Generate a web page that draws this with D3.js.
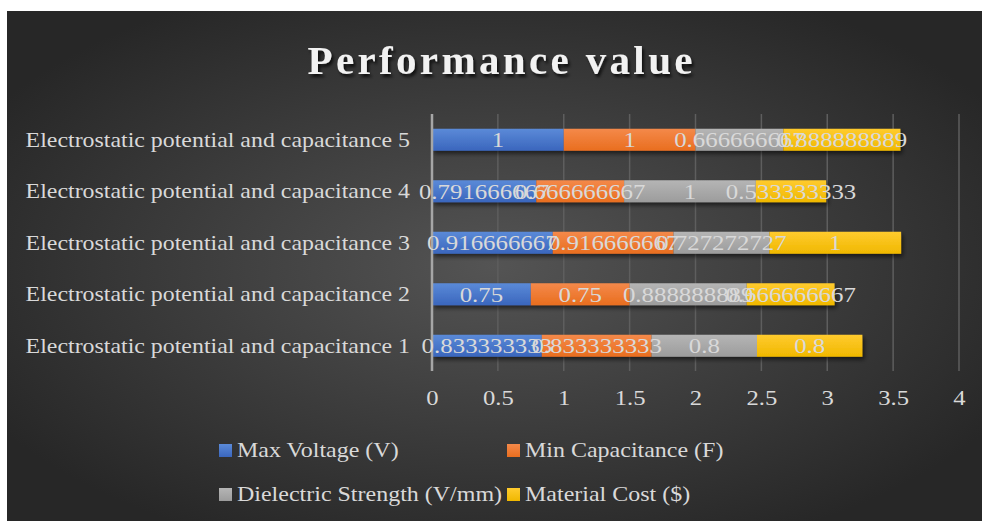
<html>
<head>
<style>
  body { margin:0; background:#fff; }
  svg text { font-family:"Liberation Serif","Times New Roman",serif; }
</style>
</head>
<body>
<svg id="chart" width="982" height="521"></svg>
<script src="https://cdn.jsdelivr.net/npm/d3@7"></script>
<script>
var categories = ["Electrostatic potential and capacitance 1","Electrostatic potential and capacitance 2","Electrostatic potential and capacitance 3","Electrostatic potential and capacitance 4","Electrostatic potential and capacitance 5"];
var seriesNames = ["Max Voltage (V)","Min Capacitance (F)","Dielectric Strength (V/mm)","Material Cost ($)"];
var maxVoltage = [0.833333333, 0.75, 0.916666667, 0.791666667, 1];
var minCapacitance = [0.833333333, 0.75, 0.916666667, 0.666666667, 1];
var dielectric = [0.8, 0.888888889, 0.727272727, 1, 0.666666667];
var materialCost = [0.8, 0.666666667, 1, 0.533333333, 0.888888889];
var xTicks = [0, 0.5, 1, 1.5, 2, 2.5, 3, 3.5, 4];
var colors = [["#5b8ad8","#3a66bd"],["#f4894a","#e96e1f"],["#b5b5b5","#9c9c9c"],["#ffcb2e","#f0b800"]];

// the original renders its serif text a bit wider than Liberation Serif
function stretch(sel, f){
  sel.each(function(){
    var w = this.getComputedTextLength();
    d3.select(this).attr('textLength', w*f).attr('lengthAdjust','spacingAndGlyphs');
  });
}

var svg = d3.select('#chart');
var defs = svg.append('defs');

var bg = defs.append('radialGradient').attr('id','bg')
  .attr('cx','50%').attr('cy','50%').attr('r','60%');
bg.append('stop').attr('offset','0%').attr('stop-color','#545454');
bg.append('stop').attr('offset','100%').attr('stop-color','#272727');

colors.forEach(function(c,i){
  var g = defs.append('linearGradient').attr('id','g'+i).attr('x1',0).attr('y1',0).attr('x2',0).attr('y2',1);
  g.append('stop').attr('offset','0%').attr('stop-color',c[0]);
  g.append('stop').attr('offset','100%').attr('stop-color',c[1]);
});

var sh = defs.append('filter').attr('id','shadow').attr('x','-10%').attr('y','-30%').attr('width','120%').attr('height','180%');
sh.append('feDropShadow').attr('dx',2).attr('dy',3).attr('stdDeviation',2).attr('flood-color','#000').attr('flood-opacity',0.55);

var tsh = defs.append('filter').attr('id','tshadow');
tsh.append('feDropShadow').attr('dx',2).attr('dy',3).attr('stdDeviation',1.5).attr('flood-color','#000').attr('flood-opacity',0.7);

svg.append('rect').attr('x',7).attr('y',11).attr('width',975).attr('height',510).attr('fill','url(#bg)');

// title
svg.append('text').attr('x',500).attr('y',74).attr('text-anchor','middle')
  .attr('font-size',41).attr('font-weight','bold').attr('fill','#f2f2f2')
  .attr('textLength',385).attr('lengthAdjust','spacing')
  .attr('filter','url(#tshadow)')
  .text('Performance value');

var x = d3.scaleLinear().domain([0,4]).range([432,959]);
var y = d3.scaleBand().domain(categories.slice().reverse()).range([114,371.5]).paddingInner(0.573).paddingOuter(0.2865);

// gridlines
svg.append('g').selectAll('line').data(xTicks.slice(1)).enter().append('line')
  .attr('x1',function(d){return x(d);}).attr('x2',function(d){return x(d);})
  .attr('y1',114).attr('y2',371).attr('stroke','#5e5e5e').attr('stroke-width',1.5);

// axis
var xAxis = svg.append('g').attr('transform','translate(0,371)')
  .call(d3.axisBottom(x).tickValues(xTicks).tickSize(0).tickPadding(18).tickFormat(d3.format('')));
xAxis.select('.domain').remove();
xAxis.selectAll('text').attr('font-size',22).attr('fill','#d9d9d9').attr('font-family','Liberation Serif');
stretch(xAxis.selectAll('text'), 1.12);

var yAxis = svg.append('g').attr('transform','translate(410,0)')
  .call(d3.axisLeft(y).tickSize(0).tickPadding(0));
yAxis.select('.domain').remove();
yAxis.selectAll('text').attr('font-size',22).attr('fill','#d9d9d9').attr('font-family','Liberation Serif');
stretch(yAxis.selectAll('text'), 1.085);

// stacked data
var rows = categories.map(function(c,i){
  return {cat:c, v:[maxVoltage[i], minCapacitance[i], dielectric[i], materialCost[i]]};
});
var stack = d3.stack().keys([0,1,2,3]).value(function(d,k){return d.v[k];});
var layers = stack(rows);

var bars = svg.append('g').attr('filter','url(#shadow)');
layers.forEach(function(layer, k){
  bars.selectAll('rect.s'+k).data(layer).enter().append('rect')
    .attr('class','s'+k)
    .attr('x',function(d){return x(d[0]);})
    .attr('width',function(d){return x(d[1])-x(d[0]);})
    .attr('y',function(d){return y(d.data.cat);})
    .attr('height',y.bandwidth())
    .attr('fill','url(#g'+k+')');
});

// axis line at 0
svg.append('line').attr('x1',x(0)).attr('x2',x(0)).attr('y1',114).attr('y2',371)
  .attr('stroke','#a6a6a6').attr('stroke-width',2.5);

// data labels
var lab = svg.append('g');
layers.forEach(function(layer, k){
  var t = lab.selectAll('text.l'+k).data(layer).enter().append('text')
    .attr('class','l'+k)
    .attr('x',function(d){return (x(d[0])+x(d[1]))/2;})
    .attr('y',function(d){return y(d.data.cat)+y.bandwidth()/2;})
    .attr('dy','0.35em').attr('text-anchor','middle')
    .attr('font-size',22).attr('fill','#d9d9d9')
    .text(function(d){return String(d.data.v[k]);});
  stretch(t, 1.13);
});

// legend
var legPos = [[219,450],[507,450],[219,494],[507,494]];
var leg = svg.append('g').selectAll('g').data(seriesNames).enter().append('g')
  .attr('transform',function(d,i){return 'translate('+legPos[i][0]+','+legPos[i][1]+')';});
leg.append('rect').attr('x',0).attr('y',-6).attr('width',13).attr('height',13)
  .attr('fill',function(d,i){return 'url(#g'+i+')';});
var lt = leg.append('text').attr('x',18).attr('dy','0.33em').attr('font-size',22).attr('fill','#d9d9d9')
  .text(function(d){return d;});
stretch(lt, 1.09);
</script>
</body>
</html>
